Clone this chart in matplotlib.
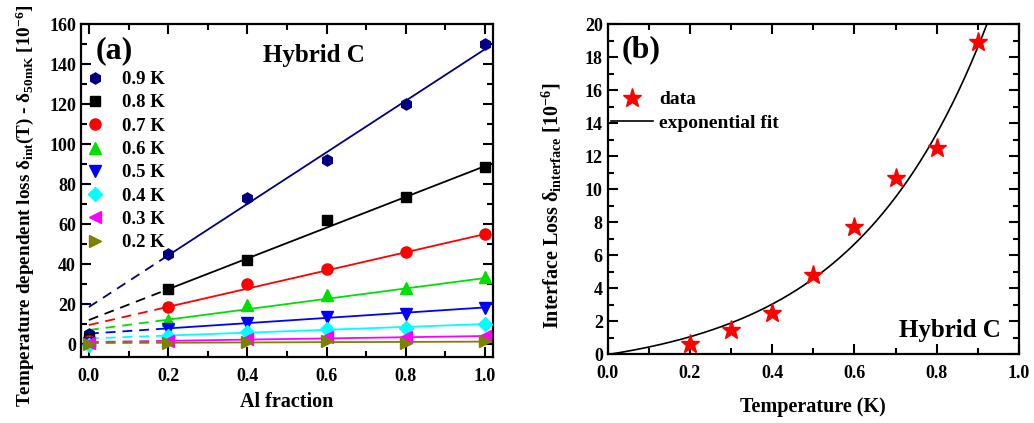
import numpy as np
import matplotlib
matplotlib.use("Agg")
import matplotlib.pyplot as plt
from matplotlib.ticker import MultipleLocator
from matplotlib.lines import Line2D

plt.rcParams['font.family'] = ['Liberation Serif', 'DejaVu Serif']
plt.rcParams['font.weight'] = 'bold'
plt.rcParams['mathtext.fontset'] = 'custom'
plt.rcParams['mathtext.rm'] = 'Liberation Serif:bold'
plt.rcParams['mathtext.it'] = 'Liberation Serif:bold'
plt.rcParams['mathtext.bf'] = 'Liberation Serif:bold'

# ---- Panel (a) data ----
al_fraction = [0.0, 0.2, 0.4, 0.6, 0.8, 1.0]
temps_labels = ['0.9 K', '0.8 K', '0.7 K', '0.6 K', '0.5 K', '0.4 K', '0.3 K', '0.2 K']
loss_09 = [5.0, 45.0, 73.0, 92.0, 120.0, 150.0]
loss_08 = [3.0, 27.5, 42.0, 62.0, 73.5, 88.5]
loss_07 = [1.5, 18.5, 30.0, 37.5, 46.0, 55.0]
loss_06 = [1.0, 12.0, 19.5, 24.5, 28.0, 33.5]
loss_05 = [0.5, 7.5, 10.5, 13.5, 15.0, 18.0]
loss_04 = [-0.5, 4.0, 6.0, 7.5, 8.0, 10.0]
loss_03 = [0.5, 1.5, 2.5, 3.5, 3.5, 4.0]
loss_02 = [0.0, 0.5, 1.0, 1.5, 0.5, 1.5]
# linear fits (intercept, slope)
fit_intercepts = [18.5, 12.0, 9.5, 7.0, 5.2, 2.8, 1.0, 0.5]
fit_slopes = [129.0, 77.0, 45.5, 26.0, 13.1, 7.2, 3.0, 0.7]

# ---- Panel (b) data ----
temperature = [0.2, 0.3, 0.4, 0.5, 0.6, 0.7, 0.8, 0.9]
interface_loss = [0.6, 1.45, 2.5, 4.8, 7.7, 10.7, 12.5, 18.9]
# exponential fit y = A*exp(b*T) + c
exp_A, exp_b, exp_c = 1.28, 3.05, -1.31

colors = ['#000080', '#000000', '#ff0000', '#00e000', '#0000ff', '#00ffff', '#ff00ff', '#808000']
markers = ['h', 's', 'o', '^', 'v', 'D', '<', '>']
msizes = [8, 7, 8, 8, 8, 7, 8, 8]
series = [loss_09, loss_08, loss_07, loss_06, loss_05, loss_04, loss_03, loss_02]

fig = plt.figure(figsize=(10.34, 4.23), dpi=100)
ax1 = fig.add_axes([0.0783, 0.156, 0.3985, 0.787])
ax2 = fig.add_axes([0.5877, 0.163, 0.3978, 0.780])

fs = 13
lfs = 14.5

handles = []
for vals, c, m, ms, b0, k, lab in zip(series, colors, markers, msizes,
                                       fit_intercepts, fit_slopes, temps_labels):
    xd = np.array([0.0, 0.2])
    xs = np.array([0.2, 1.0])
    ax1.plot(xd, b0 + k * xd, color=c, lw=1.3, ls=(0, (5.5, 3.8)), zorder=2)
    ax1.plot(xs, b0 + k * xs, color=c, lw=1.3, zorder=2)
    ax1.plot(al_fraction, vals, ls='none', marker=m, color=c, ms=ms, zorder=3)
    handles.append(Line2D([], [], ls='none', marker=m, color=c, ms=ms, label=lab))

ax1.set_xlim(-0.02, 1.02)
ax1.set_ylim(-6.5, 160)
ax1.xaxis.set_major_locator(MultipleLocator(0.2))
ax1.xaxis.set_minor_locator(MultipleLocator(0.1))
ax1.yaxis.set_major_locator(MultipleLocator(20))
ax1.yaxis.set_minor_locator(MultipleLocator(10))
ax1.xaxis.set_major_formatter(matplotlib.ticker.FormatStrFormatter('%.1f'))
ax1.set_xlabel('Al fraction', fontsize=lfs, fontweight='bold', labelpad=5)
ax1.set_ylabel(r'Temperature dependent loss $\delta_{\rm int}$(T) - $\delta_{\rm 50mK}$ [10$^{-6}$]',
               fontsize=13.8, fontweight='bold')
ax1.yaxis.set_label_coords(-0.108, 0.455)
ax1.legend(handles=handles, loc='upper left', bbox_to_anchor=(0.011, 0.859),
           frameon=False, fontsize=13.5, handletextpad=0.94, labelspacing=0.33,
           borderaxespad=0.0, borderpad=0.0, handlelength=1.0)
ax1.text(0.035, 0.965, '(a)', transform=ax1.transAxes, fontsize=23, fontweight='bold',
         va='top', ha='left')
ax1.text(0.442, 0.905, 'Hybrid C', transform=ax1.transAxes, fontsize=18, fontweight='bold',
         va='center', ha='left')

# Panel (b)
tt = np.linspace(0.0, 1.0, 400)
ax2.plot(tt, exp_A * np.exp(exp_b * tt) + exp_c, color='black', lw=1.2, label='exponential fit')
ax2.plot(temperature, interface_loss, ls='none', marker='*', color='#ff0000', ms=14,
         label='data')
ax2.set_xlim(0, 1.0)
ax2.set_ylim(0, 20)
ax2.xaxis.set_major_locator(MultipleLocator(0.2))
ax2.xaxis.set_minor_locator(MultipleLocator(0.1))
ax2.yaxis.set_major_locator(MultipleLocator(2))
ax2.yaxis.set_minor_locator(MultipleLocator(1))
ax2.xaxis.set_major_formatter(matplotlib.ticker.FormatStrFormatter('%.1f'))
ax2.set_xlabel('Temperature (K)', fontsize=lfs, fontweight='bold', labelpad=11)
ax2.set_ylabel(r'Interface Loss $\delta_{\rm interface}$ [10$^{-6}$]', fontsize=14.5,
               fontweight='bold')
ax2.yaxis.set_label_coords(-0.105, 0.45)
h, l = ax2.get_legend_handles_labels()
ax2.legend([h[1], h[0]], [l[1], l[0]], loc='upper left', bbox_to_anchor=(0.008, 0.798),
           frameon=False, fontsize=14, handletextpad=0.31, labelspacing=0.3,
           handlelength=2.16, borderaxespad=0.0, borderpad=0.0)
ax2.text(0.035, 0.965, '(b)', transform=ax2.transAxes, fontsize=23, fontweight='bold',
         va='top', ha='left')
ax2.text(0.955, 0.07, 'Hybrid C', transform=ax2.transAxes, fontsize=18, fontweight='bold',
         va='center', ha='right')

for ax in (ax1, ax2):
    for sp in ax.spines.values():
        sp.set_linewidth(1.6)
    ax.tick_params(which='both', direction='in', top=True, right=True, labelsize=fs,
                   width=1.5)
    ax.tick_params(which='major', length=7)
    ax.tick_params(which='minor', length=4)
    for lab in ax.get_xticklabels() + ax.get_yticklabels():
        lab.set_fontweight('bold')
    ax.tick_params(axis='x', pad=8)

fig.savefig('out.png', dpi=100)
